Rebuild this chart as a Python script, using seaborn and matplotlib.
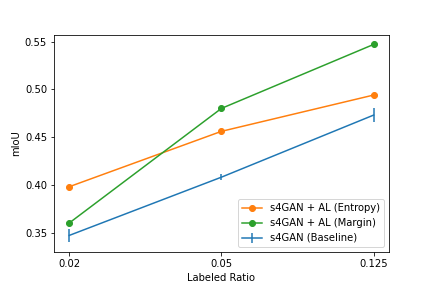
import matplotlib
matplotlib.use("Agg")
import matplotlib.pyplot as plt
import seaborn as sns
import pandas as pd

ratios = ["0.02", "0.05", "0.125"]
entropy = [0.398, 0.456, 0.494]
margin = [0.360, 0.480, 0.547]
baseline = [0.347, 0.408, 0.473]
baseline_err = [0.007, 0.003, 0.007]

pos = list(range(len(ratios)))

fig, ax = plt.subplots(figsize=(6, 4), dpi=72)
fig.subplots_adjust(left=0.125, right=0.9, top=0.88, bottom=0.125)

df_e = pd.DataFrame({"x": pos, "y": entropy})
df_m = pd.DataFrame({"x": pos, "y": margin})
sns.lineplot(data=df_e, x="x", y="y", ax=ax, color="#ff7f0e", marker="o",
             markeredgecolor="#ff7f0e", markeredgewidth=1, markersize=6,
             label="s4GAN + AL (Entropy)")
sns.lineplot(data=df_m, x="x", y="y", ax=ax, color="#2ca02c", marker="o",
             markeredgecolor="#2ca02c", markeredgewidth=1, markersize=6,
             label="s4GAN + AL (Margin)")
ax.errorbar(pos, baseline, yerr=baseline_err, color="#1f77b4",
            label="s4GAN (Baseline)")

ax.set_xticks(pos)
ax.set_xticklabels(ratios)
ax.set_xlabel("Labeled Ratio")
ax.set_ylabel("mIoU")
ax.set_yticks([0.35, 0.40, 0.45, 0.50, 0.55])
ax.legend(loc="lower right")

fig.savefig("out.png", dpi=72)
